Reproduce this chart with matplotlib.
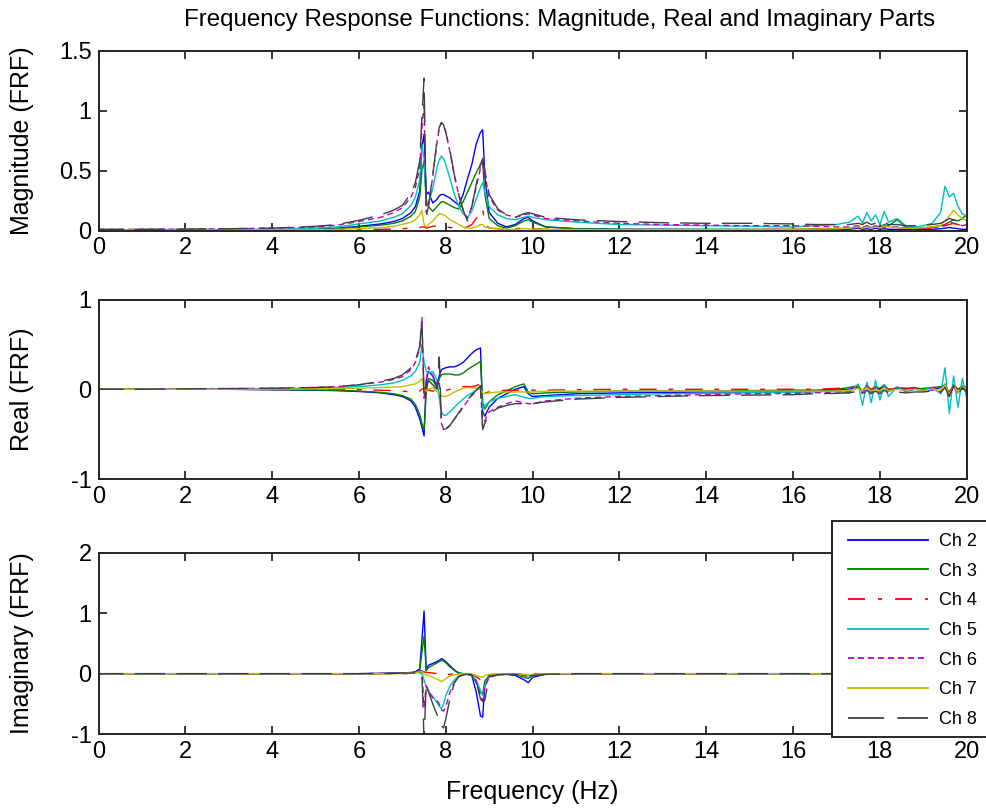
import matplotlib
matplotlib.use("Agg")
import matplotlib.pyplot as plt
from matplotlib.lines import Line2D
from matplotlib.patches import Rectangle

# ---------------- data ----------------
freq_hz = [0, 1, 2, 3, 4, 5, 5.5, 6, 6.5, 6.8,
           7.0, 7.2, 7.3, 7.4, 7.45, 7.5, 7.55, 7.6, 7.7, 7.8,
           7.85, 7.9, 7.95, 8.0, 8.1, 8.2, 8.3, 8.4, 8.5, 8.6,
           8.7, 8.8, 8.85, 8.9, 9.0, 9.2, 9.4, 9.6, 9.8, 9.9,
           10.0, 10.3, 11, 12, 13, 14, 15, 16, 16.5, 17,
           17.3, 17.5, 17.6, 17.7, 17.8, 17.9, 18.0, 18.1, 18.2, 18.4,
           18.6, 18.8, 19.0, 19.2, 19.4, 19.5, 19.6, 19.7, 19.8, 19.9, 20]

channel_names = ["Ch 2", "Ch 3", "Ch 4", "Ch 5", "Ch 6", "Ch 7", "Ch 8"]

# Magnitude
mag_ch2 = [0.005, 0.005, 0.005, 0.005, 0.006, 0.01, 0.02, 0.035, 0.055, 0.075,
           0.1, 0.15, 0.2, 0.33, 0.7, 0.8, 0.3, 0.32, 0.23, 0.26,
           0.29, 0.3, 0.3, 0.29, 0.27, 0.24, 0.21, 0.3, 0.43, 0.55,
           0.72, 0.82, 0.84, 0.45, 0.15, 0.06, 0.03, 0.05, 0.1, 0.11,
           0.08, 0.03, 0.015, 0.01, 0.01, 0.008, 0.008, 0.008, 0.01, 0.01,
           0.01, 0.02, 0.01, 0.015, 0.01, 0.02, 0.01, 0.015, 0.01, 0.01,
           0.008, 0.008, 0.01, 0.01, 0.015, 0.02, 0.025, 0.02, 0.015, 0.01, 0.01]
mag_ch3 = [0.005, 0.005, 0.005, 0.005, 0.006, 0.008, 0.015, 0.03, 0.045, 0.06,
           0.08, 0.12, 0.16, 0.28, 0.5, 0.58, 0.25, 0.2, 0.16, 0.2,
           0.22, 0.24, 0.24, 0.23, 0.21, 0.19, 0.18, 0.24, 0.32, 0.4,
           0.48, 0.55, 0.57, 0.3, 0.1, 0.04, 0.02, 0.04, 0.08, 0.09,
           0.07, 0.03, 0.015, 0.01, 0.01, 0.01, 0.01, 0.01, 0.012, 0.015,
           0.02, 0.03, 0.02, 0.04, 0.025, 0.03, 0.03, 0.05, 0.04, 0.09,
           0.03, 0.015, 0.02, 0.03, 0.04, 0.05, 0.07, 0.09, 0.08, 0.1, 0.13]
mag_ch4 = [0.003, 0.003, 0.003, 0.003, 0.004, 0.005, 0.006, 0.008, 0.01, 0.012,
           0.015, 0.02, 0.02, 0.025, 0.03, 0.03, 0.02, 0.025, 0.035, 0.04,
           0.04, 0.04, 0.035, 0.03, 0.025, 0.02, 0.015, 0.02, 0.03, 0.05,
           0.1, 0.15, 0.18, 0.06, 0.02, 0.015, 0.01, 0.015, 0.02, 0.02,
           0.015, 0.01, 0.008, 0.006, 0.006, 0.006, 0.008, 0.01, 0.012, 0.015,
           0.02, 0.03, 0.02, 0.035, 0.025, 0.03, 0.02, 0.03, 0.02, 0.025,
           0.02, 0.015, 0.015, 0.02, 0.03, 0.04, 0.05, 0.06, 0.05, 0.04, 0.04]
mag_ch5 = [0.008, 0.008, 0.008, 0.008, 0.01, 0.02, 0.03, 0.055, 0.08, 0.11,
           0.14, 0.21, 0.28, 0.42, 0.72, 0.6, 0.25, 0.22, 0.35, 0.53,
           0.59, 0.62, 0.6, 0.55, 0.43, 0.3, 0.2, 0.14, 0.11, 0.16,
           0.26, 0.36, 0.4, 0.32, 0.2, 0.13, 0.1, 0.09, 0.11, 0.12,
           0.11, 0.09, 0.07, 0.05, 0.045, 0.04, 0.035, 0.03, 0.04, 0.05,
           0.07, 0.12, 0.06, 0.15, 0.08, 0.13, 0.05, 0.16, 0.07, 0.1,
           0.04, 0.03, 0.04, 0.06, 0.15, 0.37, 0.28, 0.31, 0.2, 0.14, 0.12]
mag_ch6 = [0.01, 0.01, 0.012, 0.015, 0.02, 0.03, 0.045, 0.075, 0.11, 0.15,
           0.19, 0.28, 0.36, 0.52, 0.85, 1.05, 0.15, 0.2, 0.45, 0.74,
           0.85, 0.9, 0.88, 0.82, 0.65, 0.45, 0.3, 0.17, 0.1, 0.2,
           0.36, 0.52, 0.56, 0.46, 0.28, 0.17, 0.13, 0.11, 0.13, 0.14,
           0.13, 0.1, 0.08, 0.06, 0.05, 0.045, 0.04, 0.04, 0.035, 0.03,
           0.03, 0.04, 0.03, 0.035, 0.03, 0.04, 0.03, 0.04, 0.03, 0.03,
           0.025, 0.02, 0.02, 0.025, 0.03, 0.05, 0.07, 0.06, 0.05, 0.04, 0.05]
mag_ch7 = [0.004, 0.004, 0.004, 0.004, 0.005, 0.007, 0.01, 0.015, 0.025, 0.035,
           0.05, 0.07, 0.09, 0.13, 0.17, 0.05, 0.03, 0.05, 0.08, 0.12,
           0.14, 0.14, 0.13, 0.12, 0.09, 0.07, 0.05, 0.03, 0.02, 0.02,
           0.03, 0.05, 0.05, 0.03, 0.02, 0.015, 0.01, 0.01, 0.015, 0.015,
           0.012, 0.01, 0.008, 0.007, 0.007, 0.007, 0.008, 0.01, 0.012, 0.015,
           0.02, 0.03, 0.02, 0.03, 0.02, 0.03, 0.02, 0.04, 0.03, 0.025,
           0.02, 0.02, 0.025, 0.03, 0.04, 0.08, 0.12, 0.17, 0.13, 0.1, 0.08]
mag_ch8 = [0.01, 0.01, 0.012, 0.015, 0.02, 0.035, 0.05, 0.085, 0.13, 0.17,
           0.21, 0.31, 0.4, 0.58, 0.95, 1.27, 0.12, 0.2, 0.46, 0.76,
           0.86, 0.9, 0.88, 0.82, 0.66, 0.46, 0.3, 0.17, 0.08, 0.2,
           0.38, 0.55, 0.6, 0.5, 0.3, 0.18, 0.13, 0.11, 0.14, 0.15,
           0.14, 0.11, 0.09, 0.075, 0.065, 0.06, 0.06, 0.055, 0.05, 0.05,
           0.05, 0.06, 0.05, 0.07, 0.05, 0.06, 0.05, 0.07, 0.05, 0.05,
           0.04, 0.04, 0.045, 0.05, 0.06, 0.08, 0.1, 0.09, 0.07, 0.06, 0.06]

# Real part
re_ch2 = [0, 0, 0, 0, -0.005, -0.01, -0.015, -0.025, -0.04, -0.06,
          -0.08, -0.13, -0.2, -0.33, -0.42, -0.52, 0.1, 0.2, 0.15, 0.02,
          0.15, 0.22, 0.23, 0.24, 0.25, 0.25, 0.27, 0.3, 0.35, 0.4,
          0.44, 0.46, -0.25, -0.3, -0.2, -0.1, -0.05, 0.0, 0.03, -0.05,
          -0.08, -0.07, -0.05, -0.04, -0.035, -0.03, -0.03, -0.02, -0.02, -0.01,
          0.0, 0.03, -0.02, 0.04, -0.03, 0.02, 0.0, 0.03, -0.02, 0.01,
          0.0, 0.01, 0.0, -0.01, 0.02, 0.05, -0.05, 0.03, -0.04, 0.02, 0.0]
re_ch3 = [0, 0, 0, 0, -0.005, -0.008, -0.012, -0.02, -0.035, -0.05,
          -0.07, -0.11, -0.17, -0.28, -0.38, -0.45, -0.04, 0.12, 0.1, 0.02,
          0.12, 0.16, 0.17, 0.17, 0.17, 0.16, 0.16, 0.18, 0.22, 0.25,
          0.28, 0.31, -0.15, -0.22, -0.14, -0.06, -0.02, 0.03, 0.06, -0.03,
          -0.05, -0.04, -0.03, -0.02, -0.02, -0.02, -0.015, -0.01, -0.01, 0.0,
          0.02, 0.04, -0.03, 0.05, -0.02, 0.03, 0.01, 0.05, -0.01, 0.02,
          0.01, 0.0, 0.01, 0.02, 0.03, 0.04, -0.04, 0.05, 0.0, 0.04, 0.02]
re_ch4 = [0, 0, 0, 0, 0, 0, 0, -0.005, -0.01, -0.015,
          -0.02, -0.03, -0.03, -0.02, 0.0, 0.02, 0.0, -0.01, -0.02, -0.02,
          -0.02, -0.02, -0.01, -0.01, 0.0, 0.01, 0.02, 0.03, 0.03, 0.03,
          0.04, 0.06, 0.0, -0.04, -0.03, -0.02, -0.01, -0.01, -0.01, -0.01,
          -0.01, -0.01, -0.005, 0, 0, 0, 0, 0, 0, 0.01,
          0.02, 0.03, -0.01, 0.04, 0.0, 0.03, -0.02, 0.04, 0.0, 0.02,
          0.01, 0.02, 0.0, 0.02, 0.01, 0.03, -0.03, 0.04, 0.0, 0.03, 0.02]
re_ch5 = [0, 0, 0, 0.005, 0.008, 0.012, 0.02, 0.03, 0.05, 0.07,
          0.1, 0.15, 0.2, 0.3, 0.5, 0.3, 0.2, 0.18, 0.2, 0.1,
          -0.1, -0.25, -0.29, -0.29, -0.25, -0.2, -0.15, -0.11, -0.07, -0.04,
          -0.01, 0.02, -0.22, -0.18, -0.14, -0.1, -0.08, -0.06, -0.09, -0.1,
          -0.1, -0.08, -0.07, -0.06, -0.05, -0.045, -0.04, -0.035, -0.03, -0.02,
          -0.04, 0.06, -0.18, 0.08, -0.15, 0.1, -0.12, 0.05, -0.08, 0.03,
          -0.03, 0.0, -0.02, 0.02, -0.05, 0.24, -0.27, 0.15, -0.2, 0.12, -0.1]
re_ch6 = [0, 0, 0.005, 0.008, 0.012, 0.02, 0.03, 0.05, 0.08, 0.11,
          0.14, 0.22, 0.3, 0.45, 0.8, -0.1, 0.1, 0.25, 0.15, 0.05,
          0.1, -0.38, -0.44, -0.45, -0.4, -0.33, -0.27, -0.2, -0.13, -0.07,
          -0.02, 0.03, -0.42, -0.35, -0.25, -0.2, -0.16, -0.13, -0.15, -0.16,
          -0.16, -0.13, -0.1, -0.08, -0.07, -0.06, -0.05, -0.045, -0.04, -0.03,
          -0.03, 0.02, -0.05, 0.04, -0.04, 0.03, -0.03, 0.03, -0.02, 0.02,
          -0.02, 0.0, -0.01, 0.01, -0.03, 0.06, -0.08, 0.05, -0.05, 0.03, -0.03]
re_ch7 = [0, 0, 0, 0, 0.002, 0.005, 0.008, 0.012, 0.02, 0.025,
          0.03, 0.05, 0.06, 0.09, 0.12, 0.0, -0.02, 0.0, 0.02, -0.03,
          -0.05, -0.07, -0.08, -0.08, -0.06, -0.03, -0.01, 0.01, 0.02, 0.02,
          0.01, 0.0, -0.04, -0.05, -0.04, -0.03, -0.03, -0.03, -0.03, -0.03,
          -0.03, -0.02, -0.02, -0.02, -0.02, -0.02, -0.02, -0.02, -0.02, -0.02,
          -0.01, 0.01, -0.02, 0.02, -0.02, 0.0, -0.02, 0.02, -0.02, 0.0,
          -0.01, 0.0, -0.01, 0.0, -0.01, 0.05, -0.06, 0.04, -0.04, 0.03, 0.0]
re_ch8 = [0, 0, 0.005, 0.008, 0.012, 0.02, 0.03, 0.05, 0.09, 0.12,
          0.16, 0.24, 0.32, 0.48, 0.78, -0.08, 0.05, 0.1, 0.05, 0.0,
          0.36, -0.4, -0.45, -0.44, -0.4, -0.33, -0.26, -0.19, -0.12, -0.06,
          -0.01, 0.04, -0.45, -0.38, -0.27, -0.21, -0.18, -0.16, -0.16, -0.17,
          -0.16, -0.14, -0.11, -0.09, -0.08, -0.07, -0.065, -0.06, -0.05, -0.045,
          -0.04, -0.02, -0.06, -0.01, -0.05, -0.02, -0.05, -0.01, -0.04, -0.03,
          -0.04, -0.03, -0.03, -0.02, -0.04, 0.02, -0.08, 0.04, -0.06, 0.02, -0.03]

# Imaginary part
im_ch2 = [0, 0, 0, 0, 0, 0, 0, 0, 0.005, 0.01,
          0.01, 0.02, 0.03, 0.08, 0.55, 1.04, 0.05, 0.14, 0.17, 0.2,
          0.22, 0.25, 0.23, 0.2, 0.13, 0.06, 0.01, 0.0, -0.01, -0.03,
          -0.3, -0.7, -0.72, -0.2, -0.04, -0.01, -0.01, -0.03, -0.1, -0.15,
          -0.06, -0.01, 0, 0, 0, 0, 0, 0, 0, 0,
          0, 0.005, -0.005, 0.005, 0, 0.005, -0.005, 0, 0, 0,
          0, 0, 0, 0, 0, 0.01, -0.01, 0.01, 0, 0, 0]
im_ch3 = [0, 0, 0, 0, 0, 0, 0, 0, 0.003, 0.005,
          0.008, 0.015, 0.02, 0.06, 0.35, 0.62, 0.05, 0.1, 0.14, 0.18,
          0.2, 0.22, 0.21, 0.18, 0.11, 0.05, 0.01, 0.0, -0.01, -0.02,
          -0.15, -0.3, -0.34, -0.12, -0.03, -0.01, -0.01, -0.02, -0.06, -0.08,
          -0.03, -0.01, 0, 0, 0, 0, 0, 0, 0, 0,
          0, 0.005, -0.005, 0.005, 0, 0.005, -0.005, 0, 0, 0,
          0, 0, 0, 0, 0, 0.01, -0.01, 0.01, 0, 0, 0]
im_ch4 = [0, 0, 0, 0, 0, 0, 0, 0, 0, 0,
          0, 0, 0, 0.01, 0.02, 0.03, 0.02, 0.02, 0.01, 0.0,
          -0.01, -0.02, -0.02, -0.02, -0.01, 0.0, 0, 0, 0, -0.01,
          -0.05, -0.1, -0.13, -0.06, -0.02, -0.01, 0, 0, -0.01, -0.01,
          0, 0, 0, 0, 0, 0, 0, 0, 0, 0,
          0, 0.005, -0.005, 0.005, 0, 0.005, -0.005, 0, 0, 0,
          0, 0, 0, 0, 0, 0.01, -0.01, 0.01, 0, 0, 0]
im_ch5 = [0, 0, 0, 0, 0, 0, 0, 0, 0.002, 0.004,
          0.006, 0.01, 0.015, 0.02, 0.0, -0.1, -0.22, -0.28, -0.38, -0.48,
          -0.54, -0.58, -0.5, -0.36, -0.2, -0.1, -0.04, -0.02, -0.01, -0.02,
          -0.1, -0.28, -0.36, -0.2, -0.05, -0.02, -0.01, -0.01, -0.03, -0.04,
          -0.02, -0.01, 0, 0, 0, 0, 0, 0, 0, 0,
          0, 0.01, -0.01, 0.01, 0, 0.01, -0.01, 0, 0, 0,
          0, 0, 0, 0, 0, 0.02, -0.02, 0.01, 0, 0, 0]
im_ch6 = [0, 0, 0, 0, 0, 0, 0, 0, 0.005, 0.01,
          0.01, 0.015, 0.02, 0.05, 0.05, -0.55, -0.2, -0.3, -0.4, -0.45,
          -0.5, -0.6, -0.62, -0.55, -0.3, -0.14, -0.05, -0.02, -0.01, -0.02,
          -0.12, -0.38, -0.45, -0.22, -0.06, -0.02, -0.01, -0.01, -0.03, -0.04,
          -0.02, -0.01, 0, 0, 0, 0, 0, 0, 0, 0,
          0, 0.005, -0.005, 0.005, 0, 0.005, -0.005, 0, 0, 0,
          0, 0, 0, 0, 0, 0.01, -0.01, 0.01, 0, 0, 0]
im_ch7 = [0, 0, 0, 0, 0, 0, 0, 0, 0, 0,
          0.005, 0.01, 0.015, 0.03, 0.03, 0.0, -0.02, -0.03, -0.06, -0.09,
          -0.11, -0.13, -0.11, -0.08, -0.04, -0.02, -0.01, 0, 0, -0.01,
          -0.03, -0.05, -0.06, -0.03, -0.01, 0, 0, 0, -0.01, -0.02,
          -0.01, 0, 0, 0, 0, 0, 0, 0, 0, 0,
          0, 0.005, -0.005, 0.005, 0, 0.005, -0.005, 0, 0, 0,
          0, 0, 0, 0, 0, 0.01, -0.01, 0.01, 0, 0, 0]
im_ch8 = [0, 0, 0, 0, 0, 0, 0, 0, 0.003, 0.005,
          0.008, 0.01, 0.015, 0.02, 0.02, -1.1, -0.15, -0.3, -0.5, -0.68,
          -0.78, -0.86, -0.9, -0.75, -0.4, -0.15, -0.05, -0.02, -0.01, -0.02,
          -0.12, -0.42, -0.46, -0.44, -0.05, -0.02, -0.01, -0.01, -0.03, -0.04,
          -0.03, -0.01, 0, 0, 0, 0, 0, 0, 0, 0,
          0, 0.005, -0.005, 0.005, 0, 0.005, -0.005, 0, 0, 0,
          0, 0, 0, 0, 0, 0.01, -0.01, 0.01, 0, 0, 0]

x_ticks = [0, 2, 4, 6, 8, 10, 12, 14, 16, 18, 20]
mag_ticks = [0, 0.5, 1, 1.5]
mag_ticklabels = ["0", "0.5", "1", "1.5"]
re_ticks = [-1, 0, 1]
im_ticks = [-1, 0, 1, 2]

# ---------------- styling ----------------
plt.rcParams['font.family'] = ['Liberation Sans', 'DejaVu Sans']
plt.rcParams['lines.scale_dashes'] = False

colors = [(0, 0, 1), (0, 0.5, 0), (1, 0, 0), (0, 0.75, 0.75),
          (0.75, 0, 0.75), (0.75, 0.75, 0), (0.25, 0.25, 0.25)]
styles = ['-', '-', (0, (12.5, 8.5, 3.5, 8.5)), '-', (0, (4.3, 2.9)), '-', (4, (22, 8))]
legend_styles = ['-', '-', (0, (12.2, 9.4, 2.9, 9.4)), '-', (0, (4.3, 2.9)), '-', (0, (26, 9.5))]
spine_col = '#262626'
FS = 17
LFS = 18

W, H = 987, 810
fig = plt.figure(figsize=(W / 100, H / 100), dpi=100)
fig.patch.set_facecolor('white')

ax_pos = [[0.0998, 0.7154, 0.8796, 0.2222],
          [0.0998, 0.4086, 0.8796, 0.2216],
          [0.0998, 0.0938, 0.8796, 0.2235]]

mags = [mag_ch2, mag_ch3, mag_ch4, mag_ch5, mag_ch6, mag_ch7, mag_ch8]
reals = [re_ch2, re_ch3, re_ch4, re_ch5, re_ch6, re_ch7, re_ch8]
imags = [im_ch2, im_ch3, im_ch4, im_ch5, im_ch6, im_ch7, im_ch8]

axes = [fig.add_axes(p) for p in ax_pos]
for ax, data in zip(axes, [mags, reals, imags]):
    for vals, c, ls in zip(data, colors, styles):
        ax.plot(freq_hz, vals, color=c, linestyle=ls, linewidth=1.0)
    ax.set_xlim(0, 20)
    ax.set_xticks(x_ticks)
    ax.set_xticklabels([str(t) for t in x_ticks])
    ax.tick_params(direction='in', length=6, width=1.3, top=True, right=True,
                   labelsize=FS, colors=spine_col, pad=5)
    ax.tick_params(axis='both', labelcolor='black')
    for s in ax.spines.values():
        s.set_linewidth(1.4)
        s.set_color(spine_col)

ax1, ax2, ax3 = axes
ax1.set_ylim(0, 1.5)
ax1.set_yticks(mag_ticks)
ax1.set_yticklabels(mag_ticklabels)
ax2.set_ylim(-1, 1)
ax2.set_yticks(re_ticks)
ax2.set_yticklabels([str(t) for t in re_ticks])
ax3.set_ylim(-1, 2)
ax3.set_yticks(im_ticks)
ax3.set_yticklabels([str(t) for t in im_ticks])

fig.text(560 / W, 1 - 20 / H,
         "Frequency Response Functions: Magnitude, Real and Imaginary Parts",
         fontsize=17.4, ha='center', va='center')
ax1.set_ylabel("Magnitude (FRF)", fontsize=LFS)
ax2.set_ylabel("Real (FRF)", fontsize=LFS)
ax3.set_ylabel("Imaginary (FRF)", fontsize=LFS)
for ax in axes:
    ax.yaxis.set_label_coords(-0.074, 0.5)
ax3.set_xlabel("Frequency (Hz)", fontsize=LFS)
ax3.xaxis.set_label_coords(0.5, -0.255)

# legend: frame drawn as a rectangle running past the right figure edge
fig.patches.append(Rectangle((832 / W, 1 - 737 / H), 180 / W, 216 / H,
                             transform=fig.transFigure, facecolor='white',
                             edgecolor=spine_col, linewidth=1.4, zorder=4))
handles = [Line2D([], [], color=c, linestyle=ls, linewidth=1.3)
           for c, ls in zip(colors, legend_styles)]
leg = fig.legend(handles, channel_names, loc='upper left',
                 bbox_to_anchor=(848 / W, 1 - 533 / H),
                 bbox_transform=fig.transFigure, fontsize=13, frameon=False,
                 borderpad=0, labelspacing=0.70, handlelength=4.43,
                 handletextpad=0.62, borderaxespad=0)
leg.set_zorder(5)

fig.savefig("out.png", dpi=100, facecolor='white')
